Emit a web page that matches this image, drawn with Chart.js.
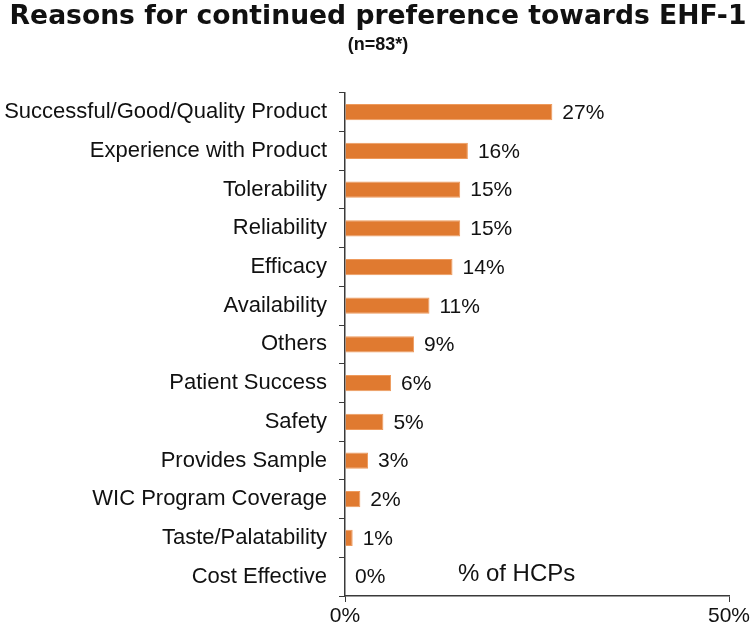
<!DOCTYPE html>
<html>
<head>
<meta charset="utf-8">
<script src="https://cdn.jsdelivr.net/npm/chart.js@4.4.1/dist/chart.umd.min.js"></script>
<style>
    html, body { margin: 0; padding: 0; background: #fff; }
    #wrap { width: 756px; height: 632px; position: relative; }
</style>
</head>
<body>
<div id="wrap"><canvas id="reasonsChart"></canvas></div>
<script>
// Data
const categories = [
    'Successful/Good/Quality Product',
    'Experience with Product',
    'Tolerability',
    'Reliability',
    'Efficacy',
    'Availability',
    'Others',
    'Patient Success',
    'Safety',
    'Provides Sample',
    'WIC Program Coverage',
    'Taste/Palatability',
    'Cost Effective'
];
const percentValues = [27, 16, 15, 15, 14, 11, 9, 6, 5, 3, 2, 1, 0];
const xTickValues = [0, 50];

const FONT = '"Liberation Sans", Arial, Helvetica, sans-serif';
const TITLE_FONT = '"DejaVu Sans", "Liberation Sans", Arial, sans-serif';
const barColor = '#E07A30';
const axisColor = '#3a3a3a';

// value labels at the end of each bar + the "% of HCPs" note
const labelPlugin = {
    id: 'barLabels',
    afterDatasetsDraw(chart) {
        const ctx = chart.ctx;
        const meta = chart.getDatasetMeta(0);
        ctx.save();
        ctx.font = '21px ' + FONT;
        ctx.fillStyle = '#111';
        ctx.textBaseline = 'middle';
        ctx.textAlign = 'left';
        meta.data.forEach((bar, i) => {
            ctx.fillText(percentValues[i] + '%', bar.x + 10, bar.y + 1);
        });
        // axis note inside the plot, on the last row
        const last = meta.data[meta.data.length - 1];
        const xs = chart.scales.x;
        ctx.font = '24px ' + FONT;
        ctx.fillText('% of HCPs', xs.getPixelForValue(14.7), last.y - 2);
        ctx.restore();
    }
};

const ctx = document.getElementById('reasonsChart').getContext('2d');
new Chart(ctx, {
    type: 'bar',
    data: {
        labels: categories,
        datasets: [{
            data: percentValues,
            backgroundColor: barColor,
            borderColor: '#EE9A5C',
            borderWidth: 1,
            barPercentage: 0.42,
            categoryPercentage: 1.0
        }]
    },
    options: {
        indexAxis: 'y',
        responsive: true,
        maintainAspectRatio: false,
        animation: false,
        layout: { padding: 0 },
        scales: {
            x: {
                min: 0,
                max: 50,
                afterBuildTicks: (scale) => {
                    scale.ticks = xTickValues.map(v => ({ value: v }));
                },
                afterFit: (scale) => {
                    scale.height = 36;
                    scale.paddingRight = 27;  // room for the "50%" label
                },
                grid: {
                    drawOnChartArea: false,
                    drawTicks: true,
                    tickLength: 6,
                    color: axisColor
                },
                border: { color: axisColor, width: 1.5 },
                ticks: {
                    color: '#111',
                    font: { family: FONT, size: 21 },
                    padding: 2,
                    maxRotation: 0,
                    callback: (v) => v + '%'
                }
            },
            y: {
                afterFit: (scale) => { scale.width = 345; },
                grid: {
                    drawOnChartArea: false,
                    drawTicks: true,
                    tickLength: 6,
                    offset: true,
                    color: axisColor
                },
                border: { color: axisColor, width: 1.5 },
                ticks: {
                    color: '#111',
                    font: { family: FONT, size: 22 },
                    padding: 12,
                    autoSkip: false
                }
            }
        },
        plugins: {
            legend: { display: false },
            tooltip: { enabled: false },
            title: {
                display: true,
                text: 'Reasons for continued preference towards EHF-1',
                color: '#111',
                font: { family: TITLE_FONT, size: 26.6, weight: 'bold', lineHeight: 1.1 },
                padding: { top: 2, bottom: 3 }
            },
            subtitle: {
                display: true,
                text: '(n=83*)',
                color: '#111',
                font: { family: FONT, size: 18, weight: 'bold', lineHeight: 1.2 },
                padding: { top: 0, bottom: 37 }
            }
        }
    },
    plugins: [labelPlugin]
});
</script>
</body>
</html>
